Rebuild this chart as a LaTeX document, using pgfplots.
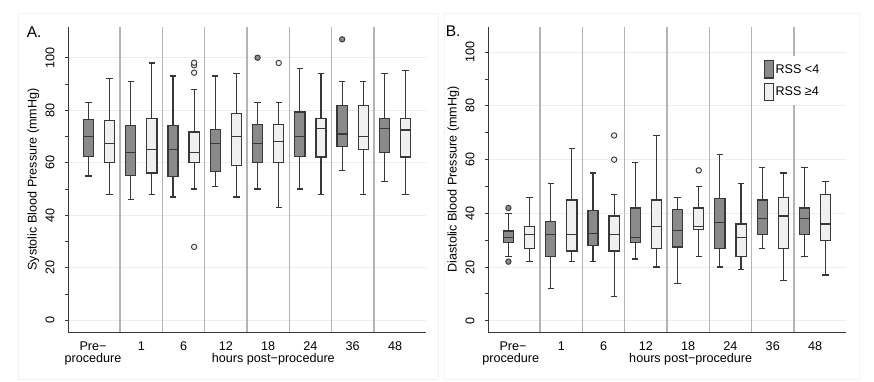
\documentclass[border=0pt]{standalone}
\usepackage{pgfplots}
\pgfplotsset{compat=1.18}
\usepgfplotslibrary{statistics}
\usepackage{fontspec}
\setmainfont{Liberation Sans}
\definecolor{darkfill}{HTML}{8A8A8A}
\definecolor{lightfill}{HTML}{F0F0F0}
\definecolor{edge}{HTML}{383838}
\definecolor{sepc}{HTML}{B4B4B4}
\definecolor{gridc}{HTML}{EEEEEE}
\newcommand{\fs}{\fontsize{12.6}{15}\selectfont}
\newcommand{\bp}[7]{\addplot[#1, boxplot prepared={draw direction=y, draw position=#2, lower whisker=#3, lower quartile=#4, median=#5, upper quartile=#6, upper whisker=#7}]}
\pgfplotsset{
  boxplot/draw direction=y,
  boxplot/box extend=0.48,
  boxplot/whisker extend=0.3,
  bdark/.style={forget plot, draw=edge, fill=darkfill, line width=1.2pt, solid, mark=*, mark size=2.7pt, mark options={fill=darkfill, draw=edge, line width=0.9pt}},
  blight/.style={forget plot, draw=edge, fill=lightfill, line width=1.2pt, solid, mark=*, mark size=2.7pt, mark options={fill=lightfill, draw=edge, line width=0.9pt}},
  panel/.style={
    scale only axis, width=357.4pt, height=305.6pt, anchor=south west,
    xmin=-0.95, xmax=15.95,
    axis x line*=bottom, axis y line*=left,
    x axis line style={-}, y axis line style={-},
    axis line style={draw=edge, line width=1.1pt},
    xtick={0.22,2.5,4.5,6.5,8.5,10.5,12.5,14.5},
    xticklabels={Pre−,1,6,12,18,24,36,48},
    x tick style={draw=none},
    ytick={0,20,40,60,80,100},
    minor ytick={10,30,50,70,90},
    tick align=outside,
    major tick length=3pt, minor tick length=3pt,
    y tick style={draw=edge, line width=0.9pt},
    ymajorgrids, major grid style={gridc, line width=1pt},
    /pgf/number format/assume math mode=true,
    tick label style={font=\fs},
    label style={font=\fs},
    xticklabel style={anchor=base, yshift=-15.7pt},
    yticklabel style={xshift=-11pt, rotate=90, anchor=base},
    every axis y label/.style={at={(axis description cs:-0.098,0.5)}, rotate=90, anchor=center},
  }
}
\begin{document}
\begin{tikzpicture}[font=\fs]
\useasboundingbox (0pt,0pt) rectangle (874pt,382pt);
\draw[black!5, line width=0.8pt] (18.3pt,2.7pt) rectangle (438.3pt,368.7pt);
\draw[black!5, line width=0.8pt] (444pt,2.7pt) rectangle (859pt,368.7pt);
% ---------------- A: systolic
\begin{axis}[panel, at={(68.3pt,49.7pt)}, ymin=-4.5, ymax=111.8,
  ylabel={Systolic Blood Pressure (mmHg)}]
\pgfplotsinvokeforeach{1.5,3.5,5.5,7.5,9.5,11.5,13.5}{
  \draw[sepc, line width=1.4pt] (axis cs:#1,-4.5) -- (axis cs:#1,111.8);
}
\bp{bdark}{0}{55}{62.5}{70}{76.4}{83} coordinates {};
\bp{blight}{1}{48}{60}{67.5}{76}{92} coordinates {};
\bp{bdark}{2}{46}{55.2}{64}{74.3}{91} coordinates {};
\bp{blight}{3}{48}{56.1}{65}{76.8}{98} coordinates {};
\bp{bdark}{4}{47}{54.8}{65}{74.3}{93} coordinates {};
\bp{blight}{5}{50}{60}{64}{71.7}{88} table[row sep=\\, y index=0] {y\\ 28\\ 94.3\\ 97.1\\ 98.1\\};
\bp{bdark}{6}{51}{56.7}{67.5}{72.7}{93} coordinates {};
\bp{blight}{7}{47}{59}{70}{78.7}{94} coordinates {};
\bp{bdark}{8}{50}{60}{67.5}{74.7}{83} table[row sep=\\, y index=0] {y\\ 100\\};
\bp{blight}{9}{43}{60}{68}{74.7}{83} table[row sep=\\, y index=0] {y\\ 98\\};
\bp{bdark}{10}{50}{62.5}{70}{79.3}{96} coordinates {};
\bp{blight}{11}{48}{62.2}{73}{76.8}{94} coordinates {};
\bp{bdark}{12}{57}{66.1}{71}{81.7}{91} table[row sep=\\, y index=0] {y\\ 107\\};
\bp{blight}{13}{48}{65}{70}{81.7}{91} coordinates {};
\bp{bdark}{14}{53}{64}{73}{76.8}{94} coordinates {};
\bp{blight}{15}{48}{62.2}{72.5}{76.8}{95} coordinates {};
\end{axis}
% ---------------- B: diastolic
\begin{axis}[panel, at={(488.3pt,49.7pt)}, ymin=-4.3, ymax=109.5,
  ylabel={Diastolic Blood Pressure (mmHg)},
  legend style={at={(axis cs:11.9,98.6)}, anchor=north west, draw=none, fill=white,
    inner xsep=4pt, inner ysep=4pt, row sep=4.5pt, font=\fs, nodes={inner sep=1.5pt}},
  legend cell align=left]
\pgfplotsinvokeforeach{1.5,3.5,5.5,7.5,9.5,11.5,13.5}{
  \draw[sepc, line width=1.4pt] (axis cs:#1,-4.3) -- (axis cs:#1,109.5);
}
\bp{bdark}{0}{24}{29}{31}{33.4}{40} table[row sep=\\, y index=0] {y\\ 22\\ 42\\};
\bp{blight}{1}{22}{27}{32}{35}{46} coordinates {};
\bp{bdark}{2}{12}{24}{32}{37}{51} coordinates {};
\bp{blight}{3}{22}{26}{32}{45}{64} coordinates {};
\bp{bdark}{4}{22}{28}{32.5}{41}{55} coordinates {};
\bp{blight}{5}{9}{26}{32}{39}{47} table[row sep=\\, y index=0] {y\\ 60\\ 69\\};
\bp{bdark}{6}{23}{29}{31}{42}{59} coordinates {};
\bp{blight}{7}{20}{27}{35}{45}{69} coordinates {};
\bp{bdark}{8}{14}{27.5}{33.5}{41.5}{46} coordinates {};
\bp{blight}{9}{24}{34}{35}{42}{50} table[row sep=\\, y index=0] {y\\ 56\\};
\bp{bdark}{10}{20}{27}{36.5}{45.5}{62} coordinates {};
\bp{blight}{11}{19}{24}{31}{36}{51} coordinates {};
\bp{bdark}{12}{27}{32}{38}{45}{57} coordinates {};
\bp{blight}{13}{15}{27}{39}{46}{55} coordinates {};
\bp{bdark}{14}{24}{32}{38}{42}{57} coordinates {};
\bp{blight}{15}{17}{30}{36}{47}{52} coordinates {};
\addlegendimage{legend image code/.code={\draw[draw=edge, fill=darkfill, line width=1.2pt] (0pt,-8.6pt) rectangle (8.6pt,8.6pt);}}
\addlegendentry{RSS <4}
\addlegendimage{legend image code/.code={\draw[draw=edge, fill=lightfill, line width=1.2pt] (0pt,-8.6pt) rectangle (8.6pt,8.6pt);}}
\addlegendentry{RSS ≥4}
\end{axis}
\node[anchor=base west, inner sep=0, font=\fontsize{15.5}{18}\selectfont] at (26.7pt,344.7pt) {A.};
\node[anchor=base west, inner sep=0, font=\fontsize{15.5}{18}\selectfont] at (445.7pt,345.3pt) {B.};
\node[anchor=base, inner sep=0] at (93pt,19.6pt) {procedure};
\node[anchor=base, inner sep=0] at (510.7pt,19.6pt) {procedure};
\node[anchor=base, inner sep=0] at (273.3pt,19.6pt) {hours post−procedure};
\node[anchor=base, inner sep=0] at (690.7pt,19.6pt) {hours post−procedure};
\end{tikzpicture}
\end{document}
